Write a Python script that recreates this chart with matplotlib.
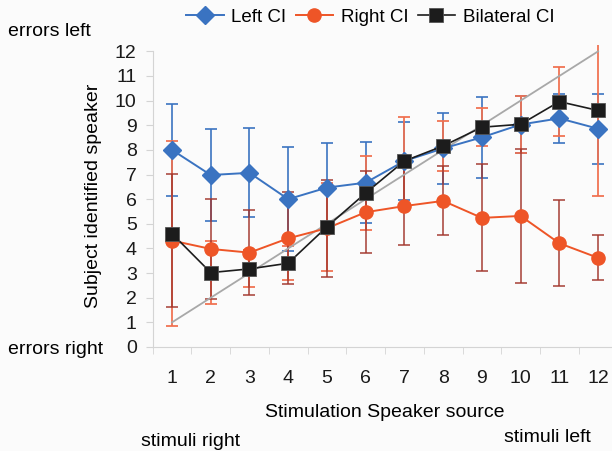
# localisation chart: subject identified speaker vs stimulation speaker

import numpy as np
import matplotlib
matplotlib.use('Agg')
import matplotlib.pyplot as plt

plt.rcParams['font.family'] = ['Liberation Sans', 'DejaVu Sans']

# data
speakers = [1, 2, 3, 4, 5, 6, 7, 8, 9, 10, 11, 12]
ideal = [1, 2, 3, 4, 5, 6, 7, 8, 9, 10, 11, 12]

left_ci = [8.0, 6.98, 7.07, 6.0, 6.47, 6.67, 7.55, 8.06, 8.51, 9.03, 9.28, 8.86]
left_err = [1.87, 1.85, 1.8, 2.1, 1.82, 1.65, 1.58, 1.43, 1.64, 1.17, 1.0, 1.42]

right_ci = [4.32, 3.98, 3.83, 4.41, 4.82, 5.47, 5.72, 5.93, 5.24, 5.32, 4.21, 3.62]
right_err = [2.69, 2.03, 1.73, 1.87, 1.97, 1.67, 1.59, 1.4, 2.17, 2.72, 1.74, 0.92]

bilateral_ci = [4.6, 3.02, 3.17, 3.40, 4.88, 6.25, 7.55, 8.16, 8.92, 9.04, 9.96, 9.6]
bilateral_err = [3.76, 1.29, 0.75, 0.7, 1.78, 1.52, 1.8, 1.02, 0.78, 1.16, 1.39, 3.48]

blue = '#3a73c1'
orange = '#ee5527'
bar_right = '#a2362c'
bar_bil = '#f0704f'
bg = '#fbfbfb'
fs = 14

fig = plt.figure(figsize=(6.12, 4.51), dpi=100, facecolor=bg)
ax = fig.add_axes([0.2494, 0.2306, 0.7595, 0.6703], facecolor=bg)

# error bars first
ax.errorbar(speakers, left_ci, yerr=left_err, fmt='none', ecolor=blue,
            elinewidth=1.4, capsize=4.5, capthick=1.4, alpha=0.85, zorder=2)
ax.errorbar(speakers, bilateral_ci, yerr=bilateral_err, fmt='none', ecolor=bar_bil,
            elinewidth=1.4, capsize=4.5, capthick=1.4, alpha=0.9, zorder=2)
ax.errorbar(speakers, right_ci, yerr=right_err, fmt='none', ecolor=bar_right,
            elinewidth=1.4, capsize=4.5, capthick=1.4, alpha=0.75, zorder=2)

# ideal response line
ax.plot(speakers, ideal, color='#a8a8a8', linewidth=1.3, zorder=3)

ax.plot(speakers, left_ci, color=blue, marker='D', markersize=9, linewidth=1.4,
        label='Left CI', zorder=4)
ax.plot(speakers, right_ci, color=orange, marker='o', markersize=9.5, linewidth=1.4,
        label='Right CI', zorder=5)
ax.plot(speakers, bilateral_ci, color='#1c1c1c', marker='s', markersize=10,
        markeredgecolor='#555555', markeredgewidth=0.6, linewidth=1.2,
        label='Bilateral CI', zorder=6)

ax.set_xlim(0.5, 12.5)
ax.set_ylim(0, 12.27)

# axes styling
for side in ['top', 'right']:
    ax.spines[side].set_visible(False)
ax.spines['left'].set_bounds(0, 12)
ax.spines['left'].set_color('#d4d4d4')
ax.spines['bottom'].set_color('#d4d4d4')

ax.set_yticks(range(0, 13))
ax.tick_params(axis='y', colors='#d4d4d4', length=5, labelcolor='#1a1a1a',
               labelsize=fs, pad=6.5)
ax.set_xticks(np.arange(0.5, 13, 1), minor=True)
ax.set_xticks(speakers)
ax.tick_params(axis='x', which='major', length=0, labelsize=fs,
               labelcolor='#1a1a1a', pad=16.5)
ax.tick_params(axis='x', which='minor', length=5, color='#d4d4d4')

ax.set_xlabel('Stimulation Speaker source', fontsize=fs, labelpad=12)
ax.set_ylabel('Subject identified speaker', fontsize=fs, labelpad=9)

# side notes
fig.text(8 / 612, 1 - 32 / 451, 'errors left', fontsize=fs, va='center', ha='left')
fig.text(8 / 612, 1 - 350 / 451, 'errors right', fontsize=fs, va='center', ha='left')
fig.text(191 / 612, 1 - 441 / 451, 'stimuli right', fontsize=fs, va='center', ha='center')
fig.text(547 / 612, 1 - 438 / 451, 'stimuli left', fontsize=fs, va='center', ha='center')

fig.legend(loc='center', bbox_to_anchor=(0.605, 0.962), ncol=3, frameon=False,
           fontsize=13.5, handlelength=2.0, columnspacing=0.5, handletextpad=0.4)

fig.savefig('out.png', dpi=100, facecolor=bg)
